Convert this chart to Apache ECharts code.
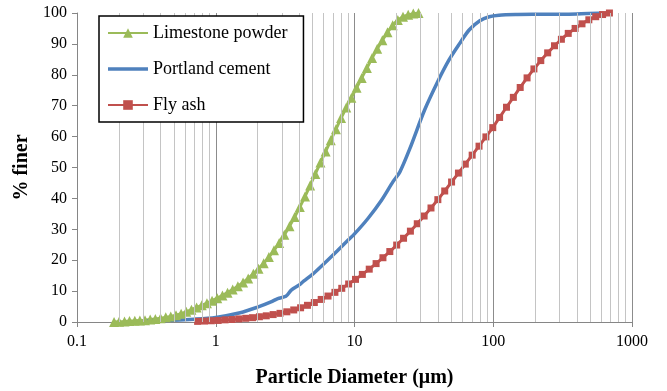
<!DOCTYPE html>
<html>
<head>
<meta charset="utf-8">
<title>Particle size distribution</title>
<script src="https://cdn.jsdelivr.net/npm/echarts@6/dist/echarts.min.js"></script>
<style>
    html, body { margin: 0; padding: 0; background: #fff; }
    #chart { width: 667px; height: 391px; }
</style>
</head>
<body>
<div id="chart"></div>
<script>
// Limestone powder (triangles)
var limeX = [0.185, 0.201, 0.220, 0.239, 0.261, 0.284, 0.309, 0.337, 0.367, 0.400,
    0.436, 0.474, 0.517, 0.563, 0.613, 0.668, 0.728, 0.793, 0.864, 0.941,
    1.025, 1.117, 1.217, 1.325, 1.444, 1.573, 1.714, 1.867, 2.034, 2.216,
    2.414, 2.630, 2.865, 3.121, 3.400, 3.704, 4.035, 4.396, 4.789, 5.217,
    5.684, 6.192, 6.745, 7.348, 8.005, 8.721, 9.50, 10.35, 11.27, 12.28,
    13.38, 14.58, 15.88, 17.30, 18.85, 20.53, 22.37, 24.37, 26.54, 28.92];
var limeY = [0, 0.1, 0.2, 0.3, 0.4, 0.5, 0.6, 0.8, 1.0, 1.2,
    1.5, 1.8, 2.2, 2.7, 3.3, 4.0, 4.7, 5.4, 6.1, 6.9,
    7.7, 8.6, 9.5, 10.5, 11.6, 12.8, 14.1, 15.6, 17.2, 19.0,
    21.0, 23.2, 25.6, 28.2, 31.0, 34.0, 37.2, 40.6, 44.2, 47.9,
    51.6, 55.2, 58.8, 62.4, 66.0, 69.4, 72.6, 75.8, 79.0, 82.2,
    85.4, 88.4, 91.2, 93.8, 96.0, 97.7, 98.8, 99.4, 99.8, 100];

// Portland cement (smooth line)
var cementX = [0.31, 0.5, 0.7, 1.0, 1.5, 2.0, 2.5, 2.8, 3.2, 3.5,
    4.0, 4.3, 5.0, 6.0, 7.5, 9.0, 10, 12.5, 15.7, 19,
    21.2, 25, 32, 40, 48, 57, 67, 80, 93.5, 110,
    150, 250, 400, 600];
var cementY = [0.4, 0.6, 0.9, 1.5, 3.0, 4.8, 6.5, 7.6, 8.3, 10.3,
    12.0, 13.2, 15.5, 18.8, 23.0, 26.5, 28.5, 33.5, 39.5, 45.5,
    48.5, 56, 68.6, 78, 84.8, 90, 94.5, 97.5, 98.8, 99.3,
    99.5, 99.6, 99.7, 100];

// Fly ash (squares)
var flyX = [0.740, 0.830, 0.930, 1.042, 1.168, 1.309, 1.467, 1.644, 1.842, 2.064,
    2.313, 2.592, 2.905, 3.255, 3.648, 4.088, 4.581, 5.134, 5.753, 6.447,
    7.225, 8.096, 9.073, 10.17, 11.39, 12.77, 14.31, 16.03, 17.97, 20.14,
    22.57, 25.29, 28.34, 31.76, 35.59, 39.88, 44.69, 50.08, 56.12, 62.89,
    70.48, 78.98, 88.51, 99.18, 111.1, 124.6, 139.6, 156.4, 175.3, 196.4,
    220.1, 246.7, 276.4, 309.8, 347.2, 389.0, 436.0, 488.6, 547.5, 613.6, 687.6];
var flyY = [0.2, 0.3, 0.4, 0.5, 0.7, 0.8, 1.0, 1.2, 1.4, 1.7,
    2.0, 2.4, 2.8, 3.3, 3.9, 4.6, 5.4, 6.3, 7.3, 8.4,
    9.6, 10.9, 12.3, 13.8, 15.4, 17.1, 18.9, 20.8, 22.8, 24.9,
    27.1, 29.4, 31.8, 34.3, 36.9, 39.6, 42.4, 45.3, 48.2, 51.1,
    54.0, 56.9, 59.9, 62.9, 66.2, 69.5, 72.7, 75.9, 79.0, 81.9,
    84.6, 87.1, 89.4, 91.5, 93.4, 95.0, 96.5, 97.8, 98.8, 99.5, 100];

var seriesNames = ['Limestone powder', 'Portland cement', 'Fly ash'];

function pairs(xs, ys) {
    return xs.map(function (x, i) { return [x, ys[i]]; });
}

// minor vertical gridlines at 2..9 of each decade
var minorLines = [];
[0.1, 1, 10, 100].forEach(function (d) {
    for (var k = 2; k <= 9; k++) {
        minorLines.push({xAxis: +(d * k).toPrecision(3)});
    }
});

var serif = 'Liberation Serif';
var axisGray = '#868686';

var chart = echarts.init(document.getElementById('chart'));
option = {
    animation: false,
    backgroundColor: '#fff',
    grid: {left: 77, right: 35, top: 13, bottom: 69, containLabel: false, outerBoundsMode: 'none'},
    legend: {
        data: [
            {name: seriesNames[0]},
            {name: seriesNames[1], icon: 'path://M0,0 L40,0 L40,3.5 L0,3.5 Z'},
            {name: seriesNames[2]}
        ],
        orient: 'vertical',
        left: 99,
        top: 16,
        padding: [8, 16, 8, 8],
        itemGap: 18,
        itemWidth: 40,
        itemHeight: 12,
        z: 50,
        backgroundColor: '#fff',
        borderColor: '#000',
        borderWidth: 1.5,
        textStyle: {fontFamily: serif, fontSize: 18, color: '#000'}
    },
    xAxis: {
        type: 'log',
        logBase: 10,
        min: 0.1,
        max: 1000,
        name: 'Particle Diameter (\u03bcm)',
        nameLocation: 'middle',
        nameGap: 46,
        nameTextStyle: {fontFamily: serif, fontSize: 20, fontWeight: 'bold', color: '#000'},
        axisLine: {lineStyle: {color: axisGray, width: 1}},
        axisTick: {show: true, length: 5, lineStyle: {color: axisGray}},
        axisLabel: {
            fontFamily: serif, fontSize: 16, color: '#000', margin: 12,
            formatter: function (v) { return String(+v.toPrecision(3)); }
        },
        splitLine: {show: true, lineStyle: {color: '#8c8c8c', width: 1}}
    },
    yAxis: {
        type: 'value',
        min: 0,
        max: 100,
        interval: 10,
        name: '% finer',
        nameLocation: 'middle',
        nameGap: 42,
        nameTextStyle: {fontFamily: serif, fontSize: 20, fontWeight: 'bold', color: '#000'},
        axisLine: {show: true, lineStyle: {color: axisGray, width: 1}},
        axisTick: {show: true, length: 5, lineStyle: {color: axisGray}},
        axisLabel: {fontFamily: serif, fontSize: 16, color: '#000', margin: 10},
        splitLine: {show: false}
    },
    series: [
        {
            name: 'grid',
            type: 'line',
            data: [],
            silent: true,
            markLine: {
                silent: true,
                symbol: ['none', 'none'],
                label: {show: false},
                lineStyle: {color: '#c4c4c4', width: 1, type: 'solid'},
                emphasis: {disabled: true},
                data: minorLines
            }
        },
        {
            name: seriesNames[0],
            type: 'line',
            data: pairs(limeX, limeY),
            symbol: 'triangle',
            symbolSize: 10,
            color: '#9BBB59',
            lineStyle: {width: 3, color: '#9BBB59'},
            itemStyle: {color: '#9BBB59'}
        },
        {
            name: seriesNames[1],
            type: 'line',
            data: pairs(cementX, cementY),
            symbol: 'none',
            smooth: 0.3,
            color: '#4F81BD',
            lineStyle: {width: 3.5, color: '#4F81BD'}
        },
        {
            name: seriesNames[2],
            type: 'line',
            data: pairs(flyX, flyY),
            symbol: 'rect',
            symbolSize: 7,
            color: '#C0504D',
            lineStyle: {width: 3, color: '#C0504D'},
            itemStyle: {color: '#C0504D'}
        }
    ]
};
chart.setOption(option);
</script>
</body>
</html>
